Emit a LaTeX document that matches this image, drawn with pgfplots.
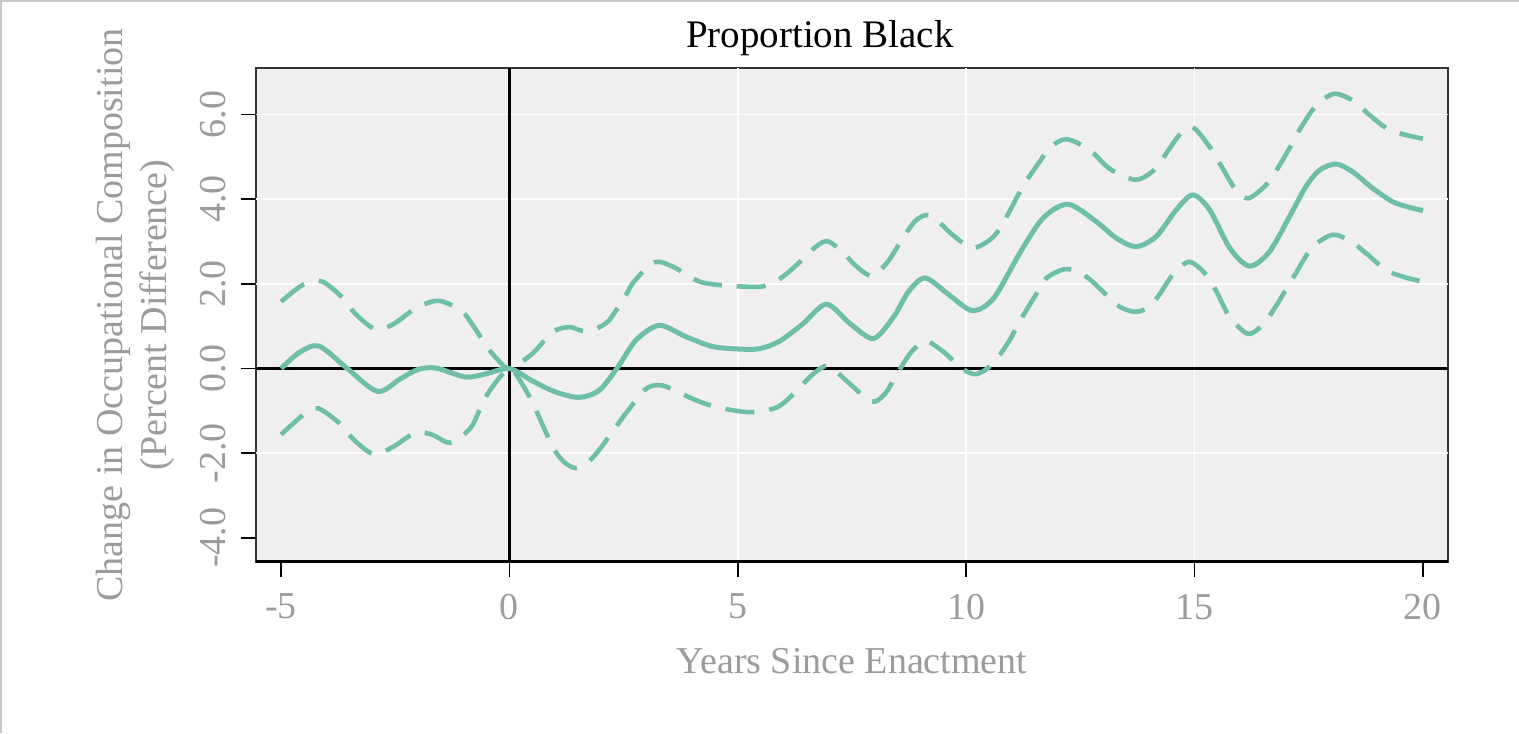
\documentclass[border=0pt]{standalone}
\usepackage{fontspec}
\setmainfont{Liberation Serif}
\usepackage{pgfplots}
\pgfplotsset{compat=1.18}
\definecolor{curve}{RGB}{111,190,168}
\definecolor{bggray}{RGB}{239,239,239}
\definecolor{labgray}{RGB}{155,155,155}
\definecolor{edgegray}{RGB}{200,200,200}
\newcommand{\labfont}{\fontsize{19}{22}\selectfont}

\begin{document}
\begin{tikzpicture}
\useasboundingbox (-128pt,-85.5pt) rectangle (631.5pt,281pt);
\draw[edgegray, line width=1.2pt] (-127.4pt,-85.5pt) -- (-127.4pt,280.4pt) -- (631.5pt,280.4pt);
\begin{axis}[
  scale only axis, width=596pt, height=247pt,
  xmin=-5.55, xmax=20.55, ymin=-4.57, ymax=7.10,
  xtick={-5,0,5,10,15,20}, xticklabels={-5,0,5,10,15,20},
  ytick={-4,-2,0,2,4,6}, yticklabels={-4.0,-2.0,0.0,2.0,4.0,6.0},
  xtick pos=bottom, ytick pos=left,
  tick align=outside, major tick length=7.5pt,
  tick style={black, line width=0.8pt},
  extra x ticks={5,10,15}, extra x tick labels={},
  extra x tick style={grid=major, major tick length=0pt},
  extra y ticks={-2,2,4,6}, extra y tick labels={},
  extra y tick style={grid=major, major tick length=0pt},
  major grid style={white, line width=0.9pt},
  axis background/.style={fill=bggray},
  axis line style={draw=black!80, line width=0.6pt},
  xticklabel shift=5pt, yticklabel shift=4pt,
  xticklabel style={font=\labfont, text=labgray},
  yticklabel style={font=\labfont, text=labgray, rotate=90, anchor=south},
  title={Proportion Black},
  title style={font=\fontsize{19.5}{22}\selectfont, at={(axis description cs:0.473,1.017)}, anchor=base},
  xlabel={Years Since Enactment},
  xlabel style={font=\labfont, text=labgray, at={(axis description cs:0.5,-0.2247)}, anchor=base},
  ylabel={Change in Occupational Composition\\(Percent Difference)},
  ylabel style={font=\labfont, text=labgray, align=center, at={(axis description cs:-0.0621,0.5)}, anchor=south},
]
% reference lines
\draw[black, line width=1.5pt] (axis cs:-5.55,0) -- (axis cs:20.55,0);
\draw[black, line width=1.5pt] (axis cs:0,-4.57) -- (axis cs:0,7.10);
\draw[black, line width=1.6pt] (rel axis cs:0,0) -- (rel axis cs:1,0);

% upper bound
\addplot[curve, line width=2.3pt, smooth, dash pattern=on 14.5pt off 7.5pt] coordinates {
(-5,1.58) (-4.52,1.98) (-4.11,2.06) (-3.64,1.66) (-3.38,1.30) (-2.94,0.93)
(-2.54,1.05) (-2.03,1.44) (-1.55,1.60) (-1.07,1.38) (-0.85,1.10) (-0.49,0.51)
(-0.24,0.19) (0,0) (0.50,0.35) (0.94,0.86) (1.31,0.98) (1.60,0.89) (1.89,0.94)
(2.18,1.14) (2.55,1.74) (2.73,2.06) (3.17,2.51) (3.57,2.41) (4.12,2.07)
(4.53,1.98) (5.04,1.94) (5.55,1.94) (5.92,2.12) (6.29,2.45) (6.6,2.78)
(6.94,3.01) (7.3,2.75) (7.57,2.44) (7.93,2.19) (8.26,2.49) (8.55,2.97)
(8.88,3.48) (9.21,3.62) (9.69,3.17) (10.13,2.85) (10.53,3.05) (10.79,3.40)
(11.24,4.30) (11.61,4.89) (11.83,5.21) (12.19,5.42) (12.70,5.17) (13.14,4.72)
(13.69,4.46) (14.05,4.63) (14.31,4.97) (14.67,5.52) (14.96,5.70) (15.33,5.24)
(15.55,4.85) (15.88,4.26) (16.17,4.02) (16.57,4.34) (16.82,4.73) (17.12,5.28)
(17.30,5.64) (17.66,6.21) (18.06,6.49) (18.50,6.31) (18.83,5.99) (19.26,5.64)
(19.70,5.50) (20.0,5.43)
};

% lower bound
\addplot[curve, line width=2.3pt, smooth, dash pattern=on 14.5pt off 7.5pt] coordinates {
(-5,-1.56) (-4.52,-1.10) (-4.19,-0.94) (-3.68,-1.33) (-3.42,-1.67) (-2.98,-2.02)
(-2.58,-1.87) (-2.06,-1.52) (-1.70,-1.56) (-1.29,-1.75) (-0.85,-1.40)
(-0.60,-0.84) (-0.38,-0.44) (0,0) (0.28,-0.37) (0.54,-0.88) (0.72,-1.32)
(0.98,-1.91) (1.20,-2.21) (1.45,-2.35) (1.74,-2.19) (2.00,-1.87) (2.37,-1.32)
(2.59,-1.0) (2.99,-0.48) (3.35,-0.40) (3.94,-0.68) (4.31,-0.84) (4.86,-0.98)
(5.33,-1.03) (5.85,-0.92) (6.18,-0.64) (6.65,-0.13) (6.98,0.06) (7.42,-0.33)
(7.93,-0.78) (8.22,-0.60) (8.44,-0.21) (8.77,0.35) (9.10,0.65) (9.51,0.39)
(9.87,0.03) (10.16,-0.13) (10.38,-0.06) (10.64,0.19) (10.93,0.63) (11.17,1.11)
(11.50,1.70) (11.75,2.13) (12.19,2.35) (12.63,2.17) (13.07,1.74) (13.36,1.46)
(13.69,1.34) (13.94,1.42) (14.20,1.70) (14.53,2.23) (14.89,2.52) (15.26,2.21)
(15.48,1.82) (15.77,1.22) (16.17,0.82) (16.49,1.03) (16.75,1.42) (17.04,1.93)
(17.26,2.33) (17.59,2.88) (18.03,3.16) (18.43,3.00) (18.76,2.72) (19.19,2.33)
(19.56,2.17) (20.0,2.05)
};

% point estimate
\addplot[curve, line width=2.5pt, smooth] coordinates {
(-5,0) (-4.6,0.38) (-4.17,0.53) (-3.55,0) (-2.89,-0.54) (-2.4,-0.25)
(-2.0,-0.02) (-1.6,0.01) (-0.96,-0.2) (-0.5,-0.12) (0,0) (0.5,-0.29)
(1.0,-0.55) (1.52,-0.68) (1.96,-0.52) (2.37,0.03) (2.77,0.67) (3.28,1.02)
(3.87,0.75) (4.45,0.52) (5.04,0.46) (5.48,0.47) (5.92,0.65) (6.43,1.06)
(6.94,1.52) (7.46,1.06) (7.97,0.71) (8.41,1.22) (8.74,1.82) (9.10,2.14)
(9.58,1.78) (10.13,1.37) (10.60,1.66) (11.17,2.72) (11.68,3.55) (12.23,3.88)
(12.85,3.47) (13.29,3.08) (13.72,2.88) (14.16,3.12) (14.60,3.75) (14.96,4.10)
(15.33,3.75) (15.77,2.85) (16.20,2.42) (16.64,2.76) (17.08,3.59) (17.44,4.30)
(17.74,4.69) (18.10,4.83) (18.46,4.65) (18.90,4.26) (19.34,3.94) (19.70,3.81)
(20.0,3.73)
};
\end{axis}
\end{tikzpicture}
\end{document}
